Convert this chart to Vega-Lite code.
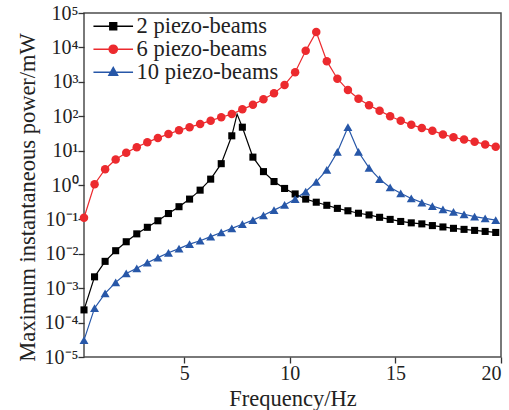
{
  "$schema": "https://vega.github.io/schema/vega-lite/v6.json",
  "width": 417,
  "height": 344,
  "autosize": "none",
  "padding": {"left": 84, "top": 13, "right": 8, "bottom": 53},
  "background": "white",
  "config": {
    "font": "Liberation Serif",
    "view": {"stroke": "#4d4d4d", "strokeWidth": 1.5},
    "axis": {
      "domain": false,
      "grid": false,
      "ticks": true,
      "tickSize": 6,
      "tickColor": "#333333",
      "tickWidth": 1.3,
      "zindex": 1,
      "labelFont": "Liberation Serif",
      "labelFontSize": 20,
      "labelColor": "#222222",
      "titleFont": "Liberation Serif",
      "titleFontSize": 22.5,
      "titleFontWeight": "normal",
      "titleColor": "#222222"
    },
    "legend": {
      "labelFont": "Liberation Serif",
      "labelFontSize": 22.5,
      "labelColor": "#222222"
    }
  },
  "data": {
    "values": [
      {"f": 0.25, "p": 0.000234, "beams": "2 piezo-beams"},
      {"f": 0.75, "p": 0.00214, "beams": "2 piezo-beams"},
      {"f": 1.25, "p": 0.00603, "beams": "2 piezo-beams"},
      {"f": 1.75, "p": 0.0123, "beams": "2 piezo-beams"},
      {"f": 2.25, "p": 0.0224, "beams": "2 piezo-beams"},
      {"f": 2.75, "p": 0.038, "beams": "2 piezo-beams"},
      {"f": 3.25, "p": 0.0589, "beams": "2 piezo-beams"},
      {"f": 3.75, "p": 0.0912, "beams": "2 piezo-beams"},
      {"f": 4.25, "p": 0.148, "beams": "2 piezo-beams"},
      {"f": 4.75, "p": 0.234, "beams": "2 piezo-beams"},
      {"f": 5.25, "p": 0.389, "beams": "2 piezo-beams"},
      {"f": 5.75, "p": 0.708, "beams": "2 piezo-beams"},
      {"f": 6.25, "p": 1.48, "beams": "2 piezo-beams"},
      {"f": 6.75, "p": 4.17, "beams": "2 piezo-beams"},
      {"f": 7.25, "p": 26.9, "beams": "2 piezo-beams"},
      {"f": 7.5, "p": 115, "beams": "2 piezo-beams", "kind": "curve"},
      {"f": 7.75, "p": 47.9, "beams": "2 piezo-beams"},
      {"f": 8.25, "p": 6.46, "beams": "2 piezo-beams"},
      {"f": 8.75, "p": 2.45, "beams": "2 piezo-beams"},
      {"f": 9.25, "p": 1.26, "beams": "2 piezo-beams"},
      {"f": 9.75, "p": 0.794, "beams": "2 piezo-beams"},
      {"f": 10.25, "p": 0.55, "beams": "2 piezo-beams"},
      {"f": 10.75, "p": 0.389, "beams": "2 piezo-beams"},
      {"f": 11.25, "p": 0.316, "beams": "2 piezo-beams"},
      {"f": 11.75, "p": 0.257, "beams": "2 piezo-beams"},
      {"f": 12.25, "p": 0.209, "beams": "2 piezo-beams"},
      {"f": 12.75, "p": 0.178, "beams": "2 piezo-beams"},
      {"f": 13.25, "p": 0.151, "beams": "2 piezo-beams"},
      {"f": 13.75, "p": 0.135, "beams": "2 piezo-beams"},
      {"f": 14.25, "p": 0.115, "beams": "2 piezo-beams"},
      {"f": 14.75, "p": 0.1, "beams": "2 piezo-beams"},
      {"f": 15.25, "p": 0.0871, "beams": "2 piezo-beams"},
      {"f": 15.75, "p": 0.0794, "beams": "2 piezo-beams"},
      {"f": 16.25, "p": 0.0741, "beams": "2 piezo-beams"},
      {"f": 16.75, "p": 0.0661, "beams": "2 piezo-beams"},
      {"f": 17.25, "p": 0.0603, "beams": "2 piezo-beams"},
      {"f": 17.75, "p": 0.055, "beams": "2 piezo-beams"},
      {"f": 18.25, "p": 0.0513, "beams": "2 piezo-beams"},
      {"f": 18.75, "p": 0.0479, "beams": "2 piezo-beams"},
      {"f": 19.25, "p": 0.0447, "beams": "2 piezo-beams"},
      {"f": 19.75, "p": 0.0417, "beams": "2 piezo-beams"},

      {"f": 0.25, "p": 0.112, "beams": "6 piezo-beams"},
      {"f": 0.75, "p": 1.05, "beams": "6 piezo-beams"},
      {"f": 1.25, "p": 2.88, "beams": "6 piezo-beams"},
      {"f": 1.75, "p": 5.5, "beams": "6 piezo-beams"},
      {"f": 2.25, "p": 8.71, "beams": "6 piezo-beams"},
      {"f": 2.75, "p": 12.6, "beams": "6 piezo-beams"},
      {"f": 3.25, "p": 17.4, "beams": "6 piezo-beams"},
      {"f": 3.75, "p": 23.4, "beams": "6 piezo-beams"},
      {"f": 4.25, "p": 30.2, "beams": "6 piezo-beams"},
      {"f": 4.75, "p": 38.9, "beams": "6 piezo-beams"},
      {"f": 5.25, "p": 47.9, "beams": "6 piezo-beams"},
      {"f": 5.75, "p": 58.9, "beams": "6 piezo-beams"},
      {"f": 6.25, "p": 74.1, "beams": "6 piezo-beams"},
      {"f": 6.75, "p": 93.3, "beams": "6 piezo-beams"},
      {"f": 7.25, "p": 115, "beams": "6 piezo-beams"},
      {"f": 7.75, "p": 158, "beams": "6 piezo-beams"},
      {"f": 8.25, "p": 214, "beams": "6 piezo-beams"},
      {"f": 8.75, "p": 309, "beams": "6 piezo-beams"},
      {"f": 9.25, "p": 468, "beams": "6 piezo-beams"},
      {"f": 9.75, "p": 813, "beams": "6 piezo-beams"},
      {"f": 10.25, "p": 1905, "beams": "6 piezo-beams"},
      {"f": 10.75, "p": 7943, "beams": "6 piezo-beams"},
      {"f": 11.25, "p": 28180, "beams": "6 piezo-beams"},
      {"f": 11.75, "p": 3981, "beams": "6 piezo-beams"},
      {"f": 12.25, "p": 1230, "beams": "6 piezo-beams"},
      {"f": 12.75, "p": 575, "beams": "6 piezo-beams"},
      {"f": 13.25, "p": 324, "beams": "6 piezo-beams"},
      {"f": 13.75, "p": 209, "beams": "6 piezo-beams"},
      {"f": 14.25, "p": 145, "beams": "6 piezo-beams"},
      {"f": 14.75, "p": 100, "beams": "6 piezo-beams"},
      {"f": 15.25, "p": 74.1, "beams": "6 piezo-beams"},
      {"f": 15.75, "p": 56.2, "beams": "6 piezo-beams"},
      {"f": 16.25, "p": 45.7, "beams": "6 piezo-beams"},
      {"f": 16.75, "p": 38.0, "beams": "6 piezo-beams"},
      {"f": 17.25, "p": 29.5, "beams": "6 piezo-beams"},
      {"f": 17.75, "p": 24.5, "beams": "6 piezo-beams"},
      {"f": 18.25, "p": 20.9, "beams": "6 piezo-beams"},
      {"f": 18.75, "p": 18.2, "beams": "6 piezo-beams"},
      {"f": 19.25, "p": 15.1, "beams": "6 piezo-beams"},
      {"f": 19.75, "p": 12.9, "beams": "6 piezo-beams"},

      {"f": 0.25, "p": 0.0000309, "beams": "10 piezo-beams"},
      {"f": 0.75, "p": 0.000263, "beams": "10 piezo-beams"},
      {"f": 1.25, "p": 0.000708, "beams": "10 piezo-beams"},
      {"f": 1.75, "p": 0.00148, "beams": "10 piezo-beams"},
      {"f": 2.25, "p": 0.00269, "beams": "10 piezo-beams"},
      {"f": 2.75, "p": 0.0038, "beams": "10 piezo-beams"},
      {"f": 3.25, "p": 0.0055, "beams": "10 piezo-beams"},
      {"f": 3.75, "p": 0.00776, "beams": "10 piezo-beams"},
      {"f": 4.25, "p": 0.0107, "beams": "10 piezo-beams"},
      {"f": 4.75, "p": 0.0141, "beams": "10 piezo-beams"},
      {"f": 5.25, "p": 0.0191, "beams": "10 piezo-beams"},
      {"f": 5.75, "p": 0.024, "beams": "10 piezo-beams"},
      {"f": 6.25, "p": 0.0316, "beams": "10 piezo-beams"},
      {"f": 6.75, "p": 0.0417, "beams": "10 piezo-beams"},
      {"f": 7.25, "p": 0.055, "beams": "10 piezo-beams"},
      {"f": 7.75, "p": 0.0724, "beams": "10 piezo-beams"},
      {"f": 8.25, "p": 0.0955, "beams": "10 piezo-beams"},
      {"f": 8.75, "p": 0.132, "beams": "10 piezo-beams"},
      {"f": 9.25, "p": 0.186, "beams": "10 piezo-beams"},
      {"f": 9.75, "p": 0.263, "beams": "10 piezo-beams"},
      {"f": 10.25, "p": 0.389, "beams": "10 piezo-beams"},
      {"f": 10.75, "p": 0.646, "beams": "10 piezo-beams"},
      {"f": 11.25, "p": 1.23, "beams": "10 piezo-beams"},
      {"f": 11.75, "p": 2.75, "beams": "10 piezo-beams"},
      {"f": 12.25, "p": 9.12, "beams": "10 piezo-beams"},
      {"f": 12.75, "p": 47.9, "beams": "10 piezo-beams"},
      {"f": 13.25, "p": 9.12, "beams": "10 piezo-beams"},
      {"f": 13.75, "p": 3.16, "beams": "10 piezo-beams"},
      {"f": 14.25, "p": 1.48, "beams": "10 piezo-beams"},
      {"f": 14.75, "p": 0.851, "beams": "10 piezo-beams"},
      {"f": 15.25, "p": 0.575, "beams": "10 piezo-beams"},
      {"f": 15.75, "p": 0.407, "beams": "10 piezo-beams"},
      {"f": 16.25, "p": 0.309, "beams": "10 piezo-beams"},
      {"f": 16.75, "p": 0.245, "beams": "10 piezo-beams"},
      {"f": 17.25, "p": 0.195, "beams": "10 piezo-beams"},
      {"f": 17.75, "p": 0.166, "beams": "10 piezo-beams"},
      {"f": 18.25, "p": 0.141, "beams": "10 piezo-beams"},
      {"f": 18.75, "p": 0.12, "beams": "10 piezo-beams"},
      {"f": 19.25, "p": 0.107, "beams": "10 piezo-beams"},
      {"f": 19.75, "p": 0.0955, "beams": "10 piezo-beams"}
    ]
  },
  "encoding": {
    "x": {
      "field": "f",
      "type": "quantitative",
      "scale": {"domain": [0.25, 20], "nice": false, "zero": false},
      "axis": {
        "title": "Frequency/Hz",
        "values": [5, 10, 15, 20],
        "labelPadding": 0,
        "titlePadding": 4,
        "encode": {
          "ticks": {"update": {"y": {"value": 0}, "y2": {"value": -6}}}
        }
      }
    },
    "y": {
      "field": "p",
      "type": "quantitative",
      "scale": {"type": "log", "domain": [0.00001, 100000], "nice": false},
      "axis": {
        "title": "Maximum instantaneous power/mW",
        "values": [0.00001, 0.0001, 0.001, 0.01, 0.1, 1, 10, 100, 1000, 10000, 100000],
        "labelExpr": "'10' + ['⁻⁵','⁻⁴','⁻³','⁻²','⁻¹','⁰','¹','²','³','⁴','⁵'][round(log(datum.value) / LN10) + 5]",
        "labelPadding": 0,
        "titlePadding": 5,
        "titleY": 184,
        "encode": {
          "ticks": {"update": {"x": {"value": 0}, "x2": {"value": 6}}}
        }
      }
    }
  },
  "layer": [
    {
      "mark": {"type": "line", "strokeWidth": 1.2},
      "encoding": {
        "stroke": {
          "field": "beams",
          "type": "nominal",
          "scale": {
            "domain": ["2 piezo-beams", "6 piezo-beams", "10 piezo-beams"],
            "range": ["#000000", "#ec2a2e", "#2757a8"]
          },
          "legend": {
            "title": null,
            "orient": "none",
            "legendX": 18,
            "legendY": 2,
            "padding": 0,
            "rowPadding": 0,
            "symbolSize": 400,
            "symbolStrokeWidth": 1.3,
            "labelOffset": 12,
            "encode": {
              "symbols": {
                "update": {
                  "shape": {"signal": "datum.value === '2 piezo-beams' ? 'M-1.98,0H1.98M-0.35,-0.35H0.35V0.35H-0.35Z' : datum.value === '6 piezo-beams' ? 'M-1.98,0H1.98M0.42,0A0.42,0.42,0,1,1,-0.42,0A0.42,0.42,0,1,1,0.42,0Z' : 'M-1.98,0H1.98M0,-0.5L0.45,0.31L-0.45,0.31Z'"},
                  "fill": {"signal": "scale('stroke', datum.value)"},
                  "stroke": {"signal": "scale('stroke', datum.value)"},
                  "fillOpacity": {"value": 1},
                  "strokeOpacity": {"value": 1},
                  "strokeWidth": {"value": 1.3}
                }
              }
            }
          }
        }
      }
    },
    {
      "transform": [{"filter": "datum.beams === '2 piezo-beams' && datum.kind !== 'curve'"}],
      "mark": {"type": "point", "shape": "square", "filled": true, "opacity": 1, "size": 50, "color": "#000000"}
    },
    {
      "transform": [{"filter": "datum.beams === '6 piezo-beams'"}],
      "mark": {"type": "point", "shape": "circle", "filled": true, "opacity": 1, "size": 72, "color": "#ec2a2e"}
    },
    {
      "transform": [{"filter": "datum.beams === '10 piezo-beams'"}],
      "mark": {"type": "point", "shape": "triangle-up", "filled": true, "opacity": 1, "size": 80, "color": "#2757a8"}
    }
  ]
}
